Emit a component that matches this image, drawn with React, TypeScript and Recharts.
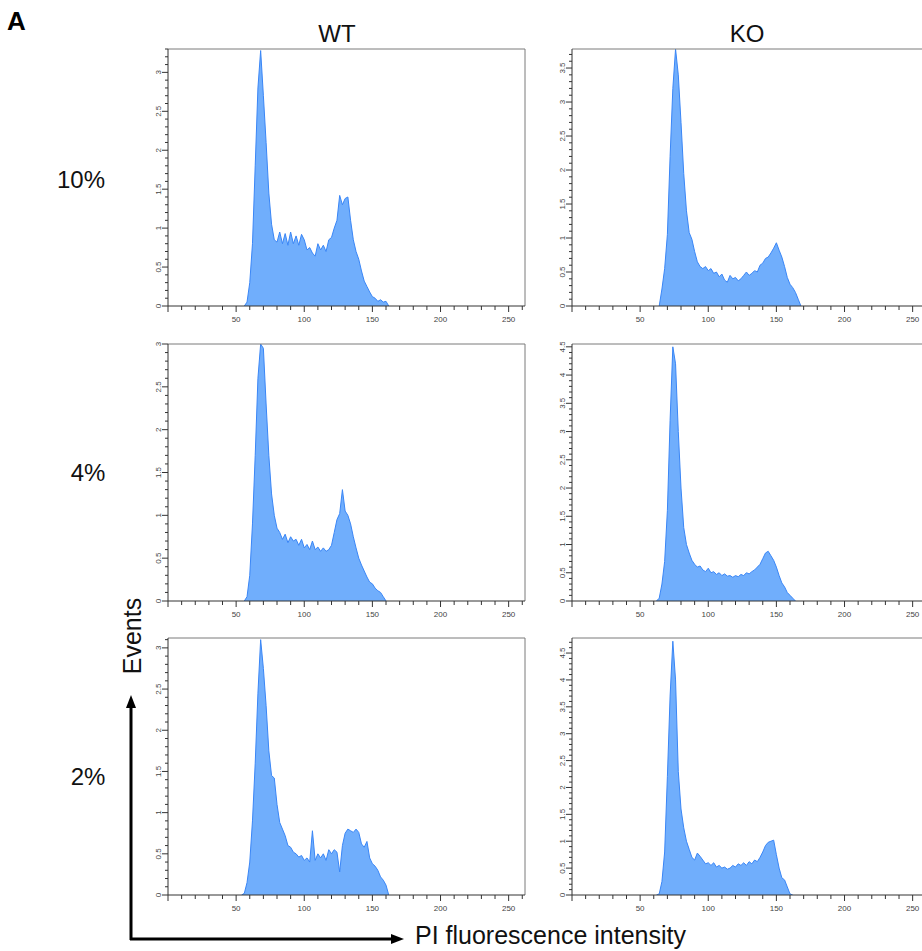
import React from 'react';
import { AreaChart, Area, XAxis, YAxis, ReferenceLine } from 'recharts';

// PI channel bins (x 1000), shared by all six histograms
const bins = [
  50, 52, 54, 56, 58, 60, 62, 64, 66, 68,
  70, 72, 74, 76, 78, 80, 82, 84, 86, 88,
  90, 92, 94, 96, 98, 100, 102, 104, 106, 108,
  110, 112, 114, 116, 118, 120, 122, 124, 126, 128,
  130, 132, 134, 136, 138, 140, 142, 144, 146, 148,
  150, 152, 154, 156, 158, 160, 162, 164, 166, 168,
  170, 172,
];

// Events (x 1000) per bin
const wt10 = [
  0, 0, 0, 0, 0.05, 0.3, 0.8, 1.8, 2.8, 3.28,
  2.7, 2.1, 1.45, 1.05, 0.85, 0.82, 0.95, 0.8, 0.93, 0.78,
  0.95, 0.8, 0.9, 0.78, 0.92, 0.85, 0.72, 0.75, 0.68, 0.64,
  0.8, 0.72, 0.78, 0.7, 0.85, 0.88, 1.0, 1.1, 1.42, 1.3,
  1.38, 1.4, 1.1, 0.85, 0.7, 0.6, 0.45, 0.32, 0.25, 0.18,
  0.12, 0.1, 0.06, 0.08, 0.05, 0.06, 0, 0, 0, 0,
  0, 0,
];
const ko10 = [
  0, 0, 0, 0, 0, 0, 0, 0, 0.25, 0.55,
  1.05, 2.2, 3.2, 3.78, 3.4, 2.7, 1.95, 1.4, 1.08, 0.98,
  0.8, 0.65, 0.58, 0.55, 0.58, 0.52, 0.55, 0.48, 0.5, 0.43,
  0.47, 0.38, 0.35, 0.45, 0.4, 0.42, 0.37, 0.4, 0.45, 0.5,
  0.45, 0.48, 0.52, 0.5, 0.6, 0.63, 0.7, 0.72, 0.78, 0.85,
  0.93, 0.82, 0.72, 0.58, 0.42, 0.32, 0.27, 0.2, 0.1, 0,
  0, 0,
];
const wt4 = [
  0, 0, 0, 0, 0.05, 0.3, 0.9, 1.7, 2.6, 3.0,
  2.95, 2.3, 1.7, 1.25, 1.0, 0.85, 0.8, 0.72, 0.78, 0.68,
  0.75, 0.7, 0.72, 0.65, 0.72, 0.62, 0.66, 0.6, 0.7, 0.6,
  0.63, 0.58, 0.62, 0.58, 0.6, 0.65, 0.8, 0.95, 1.02, 1.3,
  1.05, 1.0, 0.9, 0.75, 0.62, 0.5, 0.42, 0.35, 0.28, 0.22,
  0.2, 0.15, 0.12, 0.1, 0.05, 0, 0, 0, 0, 0,
  0, 0,
];
const ko4 = [
  0, 0, 0, 0, 0, 0, 0, 0.05, 0.3, 0.7,
  1.6, 3.2, 4.5, 4.2, 3.0, 2.0, 1.3, 1.0, 0.85, 0.72,
  0.65, 0.6, 0.62, 0.55, 0.52, 0.58, 0.5, 0.52, 0.47, 0.5,
  0.45, 0.48, 0.44, 0.45, 0.42, 0.45, 0.43, 0.47, 0.45, 0.5,
  0.48, 0.52, 0.55, 0.6, 0.65, 0.75, 0.85, 0.88, 0.8, 0.72,
  0.6, 0.45, 0.32, 0.25, 0.15, 0.1, 0.05, 0, 0, 0,
  0, 0,
];
const wt2 = [
  0, 0, 0, 0.02, 0.15, 0.4, 0.9, 1.6, 2.45, 3.1,
  2.75, 2.3, 1.75, 1.45, 1.42, 1.1, 0.88, 0.8, 0.72, 0.6,
  0.58, 0.52, 0.5, 0.46, 0.48, 0.42, 0.45, 0.4, 0.78, 0.42,
  0.5, 0.45, 0.5, 0.42, 0.55, 0.5, 0.55, 0.52, 0.28, 0.6,
  0.75, 0.8, 0.78, 0.76, 0.8, 0.76, 0.62, 0.58, 0.65, 0.45,
  0.38, 0.35, 0.3, 0.22, 0.18, 0.12, 0, 0, 0, 0,
  0, 0,
];
const ko2 = [
  0, 0, 0, 0, 0, 0, 0, 0.02, 0.25, 0.8,
  2.2, 3.7, 4.72, 4.0, 2.3, 1.6, 1.25, 1.0, 0.85, 0.7,
  0.65, 0.78, 0.72, 0.65, 0.58, 0.6, 0.55, 0.6, 0.52, 0.55,
  0.5, 0.52, 0.48, 0.5, 0.55, 0.52, 0.58, 0.55, 0.6, 0.55,
  0.62, 0.58, 0.65, 0.62, 0.7, 0.8, 0.92, 0.98, 1.0, 1.02,
  0.75, 0.5, 0.32, 0.28, 0.15, 0.02, 0, 0, 0, 0,
  0, 0,
];

const xMax = 262;
const columnLabels = ['WT', 'KO'];
const rowLabels = ['10%', '4%', '2%'];
const yMaxes = [
  [3.3, 3.78],
  [3.0, 4.55],
  [3.12, 4.78],
];
const panelValues = [
  [wt10, ko10],
  [wt4, ko4],
  [wt2, ko2],
];

const FONT = '"Liberation Sans", Arial, sans-serif';
const PLOT_W = 357;
const PLOT_H = 257;
const Y_AXIS_W = 40;
const X_AXIS_H = 24;
const colLeft = [168, 572];
const rowTop = [49, 344, 638];

const xTicks = Array.from({ length: 27 }, (_, i) => i * 10);
const yTicksFor = (max: number) =>
  Array.from({ length: Math.floor(max * 10 + 1e-6) + 1 }, (_, i) => i / 10);

const XTick = ({ x, y, payload }: any) => {
  const v = payload.value;
  const major = v % 50 === 0;
  return (
    <g>
      <line x1={x} x2={x} y1={y} y2={y + (major ? 6 : 4)} stroke="#333" strokeWidth={1} />
      {major && v > 0 && (
        <text x={x} y={y + 16} textAnchor="middle" fontSize={8} fontFamily={FONT} fill="#444">
          {v}
        </text>
      )}
    </g>
  );
};

const YTick = ({ x, y, payload }: any) => {
  const tenth = Math.round(payload.value * 10);
  const major = tenth % 5 === 0;
  return (
    <g>
      <line x1={x} x2={x - (major ? 6 : 3)} y1={y} y2={y} stroke="#333" strokeWidth={1} />
      {major && (
        <text
          transform={`translate(${x - 7},${y}) rotate(-90)`}
          textAnchor="middle"
          fontSize={8}
          fontFamily={FONT}
          fill="#444"
        >
          {tenth / 10}
        </text>
      )}
    </g>
  );
};

function Histogram({ values, yMax, left, top }: { values: number[]; yMax: number; left: number; top: number }) {
  // keep the non-zero bins plus one zero on each side
  const data = bins
    .map((x, i) => ({ x, v: values[i], keep: values[i] > 0 || (values[i - 1] ?? 0) > 0 || (values[i + 1] ?? 0) > 0 }))
    .filter((d) => d.keep);

  return (
    <div style={{ position: 'absolute', left: left - Y_AXIS_W, top: top - 2 }}>
      <AreaChart
        width={Y_AXIS_W + PLOT_W + 2}
        height={2 + PLOT_H + X_AXIS_H}
        data={data}
        margin={{ top: 2, right: 2, bottom: 0, left: 0 }}
      >
        <XAxis
          dataKey="x"
          type="number"
          domain={[0, xMax]}
          ticks={xTicks}
          interval={0}
          height={X_AXIS_H}
          tickSize={0}
          tickMargin={0}
          tickLine={false}
          axisLine={{ stroke: '#333' }}
          tick={(p: any) => <XTick {...p} />}
          allowDataOverflow
        />
        <YAxis
          type="number"
          domain={[0, yMax]}
          ticks={yTicksFor(yMax)}
          interval={0}
          width={Y_AXIS_W}
          tickSize={0}
          tickMargin={0}
          tickLine={false}
          axisLine={{ stroke: '#333' }}
          tick={(p: any) => <YTick {...p} />}
          allowDataOverflow
        />
        <ReferenceLine y={yMax} stroke="#7a7a7a" />
        <ReferenceLine x={xMax} stroke="#7a7a7a" />
        <Area
          type="linear"
          dataKey="v"
          stroke="#3a86f6"
          strokeWidth={1}
          fill="#70aefc"
          fillOpacity={1}
          dot={false}
          activeDot={false}
          isAnimationActive={false}
        />
      </AreaChart>
    </div>
  );
}

export default function App() {
  return (
    <div
      style={{
        position: 'fixed',
        left: 0,
        top: 0,
        width: 922,
        height: 951,
        overflow: 'hidden',
        background: '#fff',
        fontFamily: FONT,
      }}
    >
      {panelValues.map((row, r) =>
        row.map((values, c) => (
          <Histogram key={`${r}-${c}`} values={values} yMax={yMaxes[r][c]} left={colLeft[c]} top={rowTop[r]} />
        ))
      )}
      <svg width={922} height={951} style={{ position: 'absolute', left: 0, top: 0, pointerEvents: 'none' }}>
        <text x={7} y={30} fontSize={26} fontWeight="bold" fontFamily={FONT} fill="#000">
          A
        </text>
        {columnLabels.map((label, c) => (
          <text key={label} x={[337, 747][c]} y={42} textAnchor="middle" fontSize={24} fontFamily={FONT} fill="#111">
            {label}
          </text>
        ))}
        {rowLabels.map((label, r) => (
          <text key={label} x={[81, 88, 88][r]} y={[188, 481, 785][r]} textAnchor="middle" fontSize={24} fontFamily={FONT} fill="#111">
            {label}
          </text>
        ))}
        <text transform="translate(141,636) rotate(-90)" textAnchor="middle" fontSize={25} fontFamily={FONT} fill="#111">
          Events
        </text>
        <line x1={131} y1={940} x2={131} y2={705} stroke="#000" strokeWidth={3} />
        <polygon points="131,695 126,708 136,708" fill="#000" />
        <line x1={130} y1={939} x2={392} y2={939} stroke="#000" strokeWidth={3} />
        <polygon points="404,939 391,934 391,944" fill="#000" />
        <text x={415} y={944} fontSize={25} fontFamily={FONT} fill="#111">
          PI fluorescence intensity
        </text>
      </svg>
    </div>
  );
}
